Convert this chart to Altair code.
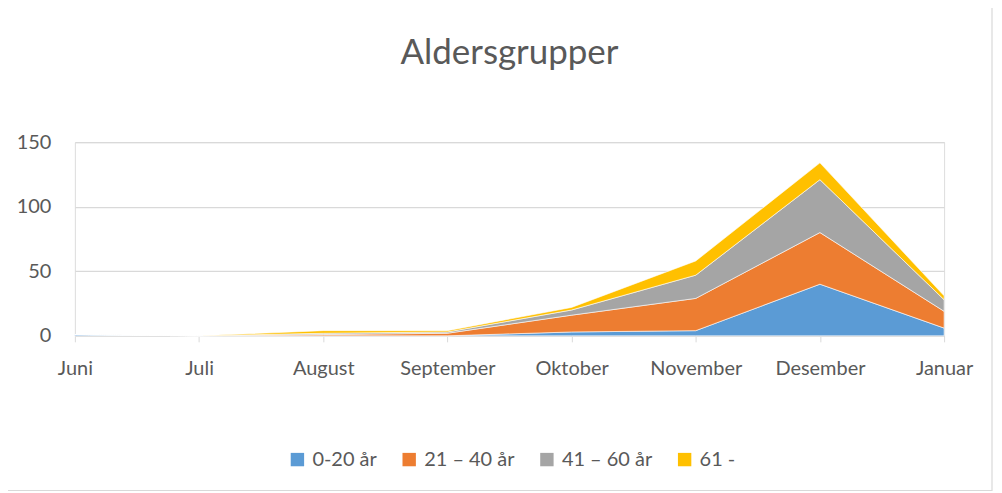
import altair as alt
import pandas as pd

months = ["Juni", "Juli", "August", "September", "Oktober", "November", "Desember", "Januar"]
groups = ["0-20 år", "21 – 40 år", "41 – 60 år", "61 -"]
g0_20 = [1, 0, 0, 0, 3, 4, 40, 6]
g21_40 = [0, 0, 1, 2, 13, 25, 40, 13]
g41_60 = [0, 0, 1, 1, 4, 18, 41, 9]
g61 = [0, 0, 2, 1, 2, 11, 13, 3]
colors = ["#5b9bd5", "#ed7d31", "#a5a5a5", "#ffc000"]
y_ticks = [0, 50, 100, 150]
title_text = "Aldersgrupper"

rows = []
for gi, (g, vals) in enumerate(zip(groups, [g0_20, g21_40, g41_60, g61])):
    for m, v in zip(months, vals):
        rows.append({"Måned": m, "Gruppe": g, "Antall": v, "idx": gi})
df = pd.DataFrame(rows)

FONT = "Lato"
W, H = 871, 194
FS = 20

area = alt.Chart(df).mark_area(stroke="white", strokeWidth=0.6, opacity=1).encode(
    x=alt.X("Måned:N", sort=months, title=None,
            scale=alt.Scale(type="point", padding=0),
            axis=alt.Axis(labelAngle=0, domainColor="#d9d9d9", tickColor="#d9d9d9",
                          tickSize=6, labelPadding=17, grid=False,
                          labelColor="#595959", labelFontSize=FS, labelFont=FONT)),
    y=alt.Y("Antall:Q", stack="zero", title=None,
            scale=alt.Scale(domain=[0, 150], nice=False),
            axis=alt.Axis(values=y_ticks, domain=False, ticks=False, labelPadding=24,
                          gridColor="#d9d9d9", gridWidth=1.3,
                          labelColor="#595959", labelFontSize=FS, labelFont=FONT)),
    color=alt.Color("Gruppe:N", sort=groups, scale=alt.Scale(domain=groups, range=colors),
                    legend=alt.Legend(title=None, orient="none", direction="horizontal",
                                      legendX=213, legendY=308,
                                      symbolType="square", symbolSize=180,
                                      symbolStrokeWidth=0, labelFontSize=FS,
                                      labelFont=FONT, labelColor="#595959",
                                      columnPadding=22, labelOffset=5)),
    order=alt.Order("idx:Q", sort="ascending"),
)

frame = alt.Chart(pd.DataFrame({"a": [0]})).mark_rect(
    fill=None, stroke="#d9d9d9", strokeWidth=1.2
).encode(
    x=alt.value(-68), x2=alt.value(919), y=alt.value(-200), y2=alt.value(349)
)

title = alt.Chart(pd.DataFrame({"t": [title_text]})).mark_text(
    fontSize=35, font=FONT, color="#595959", align="center", baseline="middle"
).encode(text="t:N", x=alt.value(W / 2), y=alt.value(-89))

chart = alt.layer(area, frame, title).properties(
    width=W, height=H,
    autosize=alt.AutoSizeParams(type="none"),
    padding={"left": 67, "top": 134, "right": 50, "bottom": 157},
).configure_view(stroke=None).configure(background="white")

chart.save("out.html", embed_options={"renderer": "svg", "actions": False})
